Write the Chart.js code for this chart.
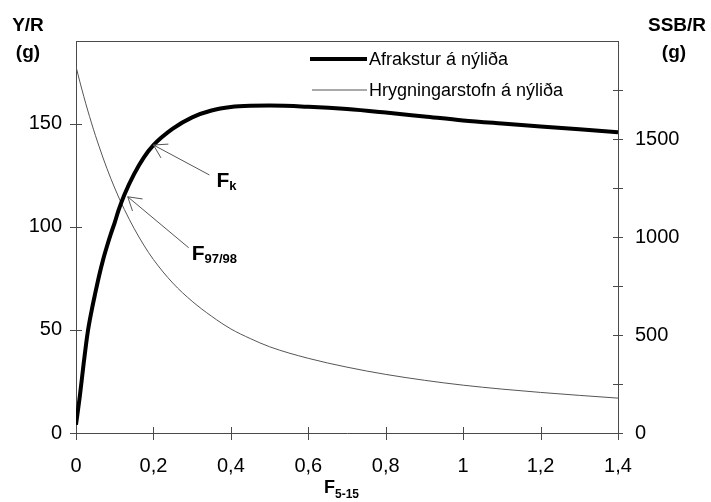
<!DOCTYPE html>
<html><head><meta charset="utf-8">
<script src="https://cdn.jsdelivr.net/npm/chart.js@4.4.1/dist/chart.umd.min.js"></script>
<style>html,body{margin:0;padding:0;background:#fff;overflow:hidden}#wrap{width:711px;height:502px}</style>
</head><body><div id="wrap"><canvas id="c" width="711" height="502"></canvas></div>
<script>
// ---- data ----
const fishingMortality = [0, 0.01, 0.02, 0.03, 0.04, 0.05, 0.06, 0.07, 0.08, 0.09, 0.1, 0.11, 0.125, 0.15, 0.175, 0.2, 0.25, 0.3, 0.35, 0.4, 0.45, 0.5, 0.6, 0.7, 0.8, 0.9, 1.0, 1.1, 1.2, 1.3, 1.4];
const yieldPerRecruit = [4, 18, 34, 48.5, 59, 68, 76.5, 84, 90.5, 96.5, 102, 108, 115.5, 125.5, 133.5, 139.5, 147.5, 153, 156.3, 158, 158.6, 158.7, 158.1, 157, 155.3, 153.4, 151.5, 150, 148.6, 147.2, 145.8];
const ssbPerRecruit = [1870, 1792, 1718, 1648, 1582, 1519, 1460, 1403, 1349, 1298, 1250, 1204, 1140, 1044, 959, 885, 765, 672, 596, 531, 482, 440, 381, 336, 299, 269, 244, 224, 207, 192, 178];
const seriesLabels = ['Afrakstur á nýliða', 'Hrygningarstofn á nýliða'];
const xTickValues = [0, 0.2, 0.4, 0.6, 0.8, 1, 1.2, 1.4];
const leftTickValues = [0, 50, 100, 150];
const rightTickValues = [0, 250, 500, 750, 1000, 1250, 1500, 1750];
const rightLabelledTicks = [0, 500, 1000, 1500];
const markerNames = [{main: 'F', sub: 'k'}, {main: 'F', sub: '97/98'}];
const markerF = [0.2, 0.1336];
const markerYield = [139.6, 114.5];

const FONT = '"Liberation Sans", Arial, Helvetica, sans-serif';
Chart.defaults.font.family = FONT;

function fmtX(v) {
  if (Math.abs(v - Math.round(v)) < 1e-9) return String(Math.round(v));
  return v.toFixed(1).replace('.', ',');
}

const frameColor = '#4a4a4a';

const decorPlugin = {
  id: 'decor',
  afterDraw(chart) {
    const ctx = chart.ctx;
    const ca = chart.chartArea;
    const xs = chart.scales.x, ys = chart.scales.y, y2 = chart.scales.y2;
    ctx.save();
    // top frame line
    ctx.strokeStyle = frameColor; ctx.lineWidth = 1;
    ctx.beginPath(); ctx.moveTo(ca.left, ca.top + 0.5); ctx.lineTo(ca.right, ca.top + 0.5); ctx.stroke();
    // crossing tick marks
    ctx.beginPath();
    xs.ticks.forEach(t => { const p = Math.round(xs.getPixelForValue(t.value)) + 0.5; ctx.moveTo(p, ca.bottom - 6); ctx.lineTo(p, ca.bottom + 7); });
    ys.ticks.forEach(t => { const p = Math.round(ys.getPixelForValue(t.value)) + 0.5; ctx.moveTo(ca.left - 6, p); ctx.lineTo(ca.left + 6, p); });
    y2.ticks.forEach(t => { if (t.value >= y2.max) return; const p = Math.round(y2.getPixelForValue(t.value)) + 0.5; ctx.moveTo(ca.right - 5, p); ctx.lineTo(ca.right + 5, p); });
    ctx.stroke();

    // axis titles
    ctx.fillStyle = '#000';
    ctx.textBaseline = 'alphabetic';
    ctx.textAlign = 'center';
    ctx.font = 'bold 19px ' + FONT;
    ctx.fillText('Y/R', 28, 31);
    ctx.fillText('(g)', 28, 58);
    ctx.fillText('SSB/R', 677, 31);
    ctx.fillText('(g)', 674, 58);
    // x title F5-15
    ctx.textAlign = 'left';
    ctx.font = 'bold 18px ' + FONT;
    ctx.fillText('F', 324, 493);
    ctx.font = 'bold 12px ' + FONT;
    ctx.fillText('5-15', 335, 498);

    // legend
    const metas = chart.data.datasets;
    const legendRows = [59, 90];
    metas.forEach((ds, i) => {
      const yy = legendRows[i];
      ctx.strokeStyle = ds.borderColor; ctx.lineWidth = ds.borderWidth;
      ctx.beginPath(); ctx.moveTo(i === 0 ? 310 : 312, yy); ctx.lineTo(367, yy); ctx.stroke();
      ctx.fillStyle = '#000'; ctx.font = '18px ' + FONT; ctx.textAlign = 'left'; ctx.textBaseline = 'middle';
      ctx.fillText(ds.label, 369, yy + 1);
    });

    // arrows with labels
    const offsets = [{dx: 56, dy: 30, tx: 7, ty: 12}, {dx: 61, dy: 51, tx: 3, ty: 12}];
    ctx.strokeStyle = '#555'; ctx.lineWidth = 1;
    markerNames.forEach((m, i) => {
      const tipX = xs.getPixelForValue(markerF[i]);
      const tipY = ys.getPixelForValue(markerYield[i]);
      const o = offsets[i];
      const tailX = tipX + o.dx, tailY = tipY + o.dy;
      ctx.beginPath(); ctx.moveTo(tailX, tailY); ctx.lineTo(tipX, tipY); ctx.stroke();
      const ang = Math.atan2(o.dy, o.dx);
      const L = 15, spread = 0.55;
      ctx.beginPath();
      ctx.moveTo(tipX + L * Math.cos(ang - spread), tipY + L * Math.sin(ang - spread));
      ctx.lineTo(tipX, tipY);
      ctx.lineTo(tipX + L * Math.cos(ang + spread), tipY + L * Math.sin(ang + spread));
      ctx.stroke();
      ctx.fillStyle = '#000'; ctx.textAlign = 'left'; ctx.textBaseline = 'alphabetic';
      ctx.font = 'bold 21px ' + FONT;
      const bx = tailX + o.tx, by = tailY + o.ty;
      ctx.fillText(m.main, bx, by);
      const w = ctx.measureText(m.main).width;
      ctx.font = 'bold 13px ' + FONT;
      ctx.fillText(m.sub, bx + w, by + 3);
    });
    ctx.restore();
  }
};

new Chart(document.getElementById('c'), {
  type: 'line',
  data: {
    datasets: [
      {
        label: seriesLabels[0],
        data: fishingMortality.map((f, i) => ({x: f, y: yieldPerRecruit[i]})),
        yAxisID: 'y', borderColor: '#000', borderWidth: 4, pointRadius: 0,
        cubicInterpolationMode: 'monotone', fill: false
      },
      {
        label: seriesLabels[1],
        data: fishingMortality.map((f, i) => ({x: f, y: ssbPerRecruit[i]})),
        yAxisID: 'y2', borderColor: '#555', borderWidth: 1, pointRadius: 0,
        cubicInterpolationMode: 'monotone', fill: false
      }
    ]
  },
  options: {
    responsive: false, animation: false, devicePixelRatio: 1,
    layout: {padding: {top: 41, left: 0, right: 0, bottom: 0}},
    plugins: {legend: {display: false}, title: {display: false}, tooltip: {enabled: false}},
    scales: {
      x: {
        type: 'linear', min: 0, max: 1.4,
        afterBuildTicks: s => { s.ticks = xTickValues.map(v => ({value: v})); },
        afterFit: s => { s.height = 69; },
        ticks: {callback: v => fmtX(v), color: '#000', font: {size: 20}, padding: 21, maxRotation: 0, autoSkip: false},
        grid: {drawOnChartArea: false, drawTicks: false},
        border: {display: true, color: frameColor, width: 1}
      },
      y: {
        type: 'linear', position: 'left', min: 0, max: 190,
        afterBuildTicks: s => { s.ticks = leftTickValues.map(v => ({value: v})); },
        afterFit: s => { s.width = 76; },
        ticks: {color: '#000', font: {size: 20}, padding: 14},
        grid: {drawOnChartArea: false, drawTicks: false},
        border: {display: true, color: frameColor, width: 1}
      },
      y2: {
        type: 'linear', position: 'right', min: 0, max: 2000,
        afterBuildTicks: s => { s.ticks = rightTickValues.map(v => ({value: v})); },
        afterFit: s => { s.width = 93; },
        ticks: {color: '#000', font: {size: 20}, padding: 17,
          callback: v => rightLabelledTicks.includes(v) ? String(v) : ''},
        grid: {drawOnChartArea: false, drawTicks: false},
        border: {display: true, color: frameColor, width: 1}
      }
    }
  },
  plugins: [decorPlugin]
});
</script>
</body></html>
